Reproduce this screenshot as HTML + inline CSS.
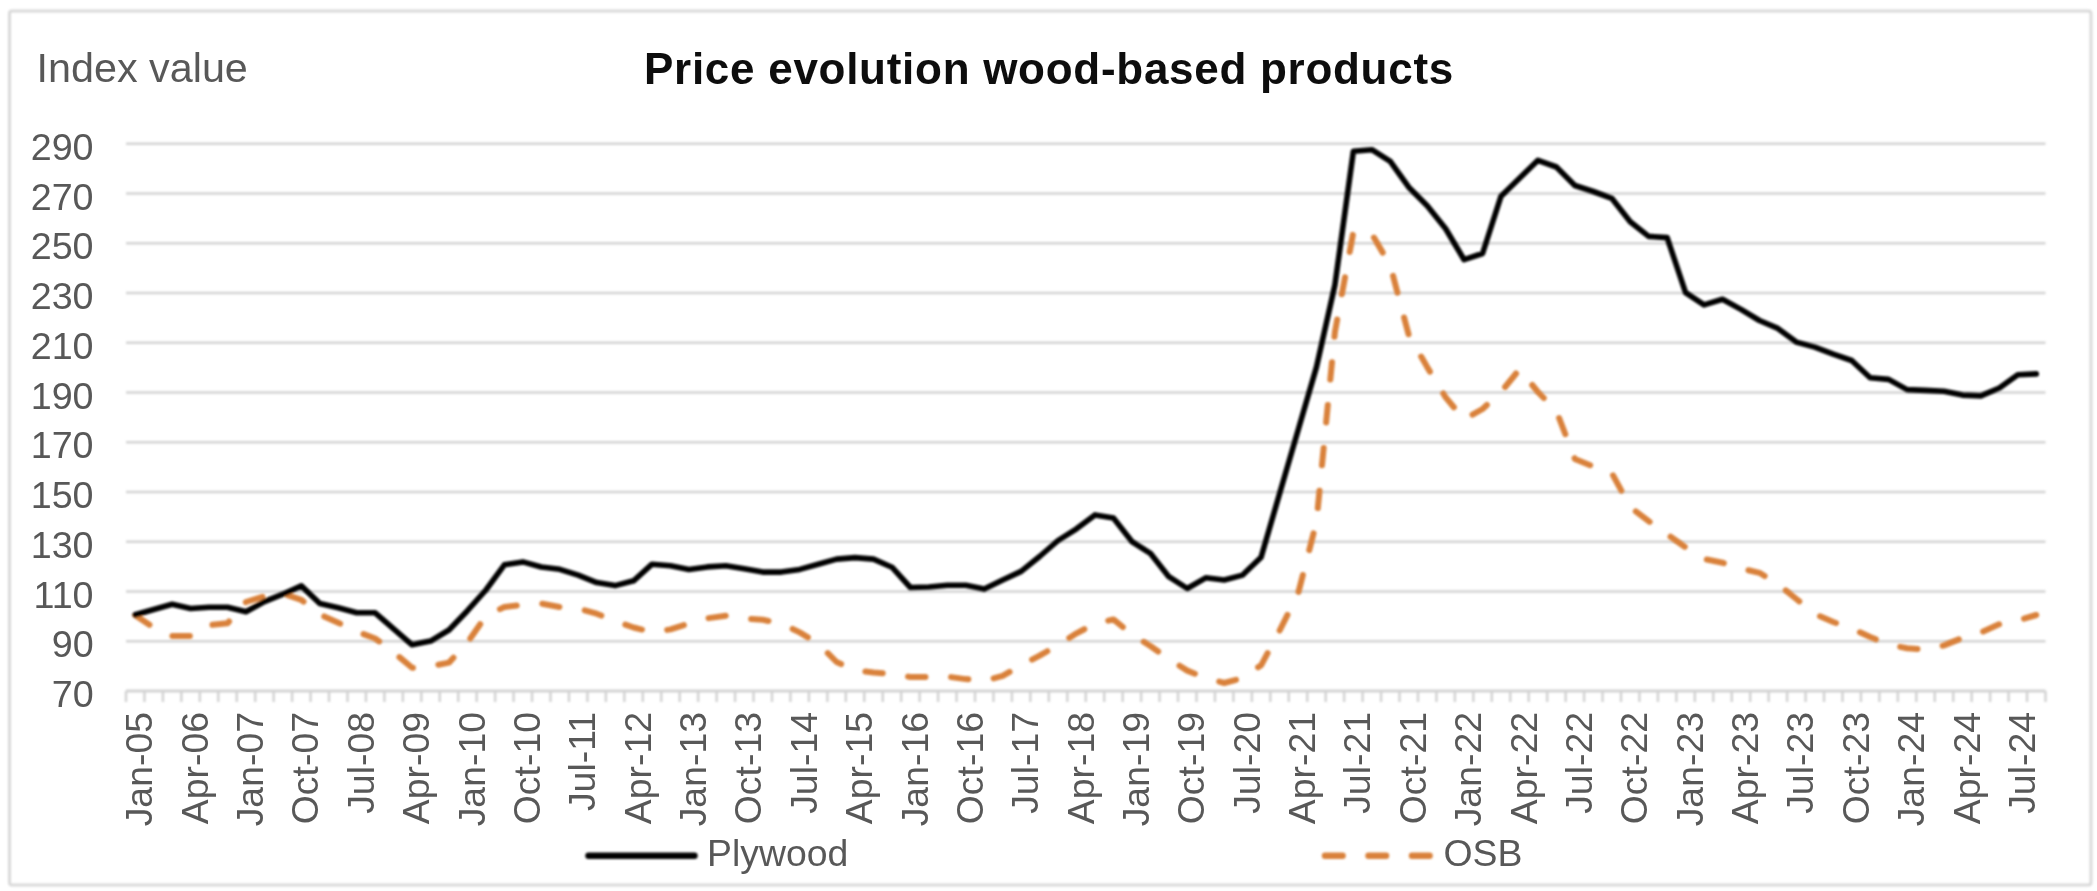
<!DOCTYPE html>
<html><head><meta charset="utf-8"><style>
html,body{margin:0;padding:0;background:#fff;}
body{width:2097px;height:891px;overflow:hidden;font-family:"Liberation Sans",sans-serif;}
svg{display:block;}
</style></head><body>
<svg width="2097" height="891" viewBox="0 0 2097 891">
<defs><filter id="bl" x="0" y="0" width="2097" height="891" filterUnits="userSpaceOnUse"><feGaussianBlur stdDeviation="0.85"/></filter><filter id="bt" x="0" y="0" width="2097" height="891" filterUnits="userSpaceOnUse"><feGaussianBlur stdDeviation="0.45"/></filter></defs>
<rect x="0" y="0" width="2097" height="891" fill="#ffffff"/>
<g filter="url(#bl)">
<rect x="9.5" y="11" width="2081.5" height="874" rx="2.5" fill="none" stroke="#d9d9d9" stroke-width="3"/>
<line x1="126.0" y1="641.25" x2="2045.5" y2="641.25" stroke="#d3d3d3" stroke-width="2.5"/>
<line x1="126.0" y1="591.50" x2="2045.5" y2="591.50" stroke="#d3d3d3" stroke-width="2.5"/>
<line x1="126.0" y1="541.75" x2="2045.5" y2="541.75" stroke="#d3d3d3" stroke-width="2.5"/>
<line x1="126.0" y1="492.00" x2="2045.5" y2="492.00" stroke="#d3d3d3" stroke-width="2.5"/>
<line x1="126.0" y1="442.25" x2="2045.5" y2="442.25" stroke="#d3d3d3" stroke-width="2.5"/>
<line x1="126.0" y1="392.50" x2="2045.5" y2="392.50" stroke="#d3d3d3" stroke-width="2.5"/>
<line x1="126.0" y1="342.75" x2="2045.5" y2="342.75" stroke="#d3d3d3" stroke-width="2.5"/>
<line x1="126.0" y1="293.00" x2="2045.5" y2="293.00" stroke="#d3d3d3" stroke-width="2.5"/>
<line x1="126.0" y1="243.25" x2="2045.5" y2="243.25" stroke="#d3d3d3" stroke-width="2.5"/>
<line x1="126.0" y1="193.50" x2="2045.5" y2="193.50" stroke="#d3d3d3" stroke-width="2.5"/>
<line x1="126.0" y1="143.75" x2="2045.5" y2="143.75" stroke="#d3d3d3" stroke-width="2.5"/>
<line x1="126.0" y1="691" x2="2045.5" y2="691" stroke="#d3d3d3" stroke-width="3"/>
<line x1="126.00" y1="691" x2="126.00" y2="702" stroke="#d3d3d3" stroke-width="2.5"/>
<line x1="144.46" y1="691" x2="144.46" y2="702" stroke="#d3d3d3" stroke-width="2.5"/>
<line x1="162.91" y1="691" x2="162.91" y2="702" stroke="#d3d3d3" stroke-width="2.5"/>
<line x1="181.37" y1="691" x2="181.37" y2="702" stroke="#d3d3d3" stroke-width="2.5"/>
<line x1="199.83" y1="691" x2="199.83" y2="702" stroke="#d3d3d3" stroke-width="2.5"/>
<line x1="218.28" y1="691" x2="218.28" y2="702" stroke="#d3d3d3" stroke-width="2.5"/>
<line x1="236.74" y1="691" x2="236.74" y2="702" stroke="#d3d3d3" stroke-width="2.5"/>
<line x1="255.20" y1="691" x2="255.20" y2="702" stroke="#d3d3d3" stroke-width="2.5"/>
<line x1="273.65" y1="691" x2="273.65" y2="702" stroke="#d3d3d3" stroke-width="2.5"/>
<line x1="292.11" y1="691" x2="292.11" y2="702" stroke="#d3d3d3" stroke-width="2.5"/>
<line x1="310.57" y1="691" x2="310.57" y2="702" stroke="#d3d3d3" stroke-width="2.5"/>
<line x1="329.02" y1="691" x2="329.02" y2="702" stroke="#d3d3d3" stroke-width="2.5"/>
<line x1="347.48" y1="691" x2="347.48" y2="702" stroke="#d3d3d3" stroke-width="2.5"/>
<line x1="365.94" y1="691" x2="365.94" y2="702" stroke="#d3d3d3" stroke-width="2.5"/>
<line x1="384.39" y1="691" x2="384.39" y2="702" stroke="#d3d3d3" stroke-width="2.5"/>
<line x1="402.85" y1="691" x2="402.85" y2="702" stroke="#d3d3d3" stroke-width="2.5"/>
<line x1="421.31" y1="691" x2="421.31" y2="702" stroke="#d3d3d3" stroke-width="2.5"/>
<line x1="439.76" y1="691" x2="439.76" y2="702" stroke="#d3d3d3" stroke-width="2.5"/>
<line x1="458.22" y1="691" x2="458.22" y2="702" stroke="#d3d3d3" stroke-width="2.5"/>
<line x1="476.68" y1="691" x2="476.68" y2="702" stroke="#d3d3d3" stroke-width="2.5"/>
<line x1="495.13" y1="691" x2="495.13" y2="702" stroke="#d3d3d3" stroke-width="2.5"/>
<line x1="513.59" y1="691" x2="513.59" y2="702" stroke="#d3d3d3" stroke-width="2.5"/>
<line x1="532.05" y1="691" x2="532.05" y2="702" stroke="#d3d3d3" stroke-width="2.5"/>
<line x1="550.50" y1="691" x2="550.50" y2="702" stroke="#d3d3d3" stroke-width="2.5"/>
<line x1="568.96" y1="691" x2="568.96" y2="702" stroke="#d3d3d3" stroke-width="2.5"/>
<line x1="587.42" y1="691" x2="587.42" y2="702" stroke="#d3d3d3" stroke-width="2.5"/>
<line x1="605.88" y1="691" x2="605.88" y2="702" stroke="#d3d3d3" stroke-width="2.5"/>
<line x1="624.33" y1="691" x2="624.33" y2="702" stroke="#d3d3d3" stroke-width="2.5"/>
<line x1="642.79" y1="691" x2="642.79" y2="702" stroke="#d3d3d3" stroke-width="2.5"/>
<line x1="661.25" y1="691" x2="661.25" y2="702" stroke="#d3d3d3" stroke-width="2.5"/>
<line x1="679.70" y1="691" x2="679.70" y2="702" stroke="#d3d3d3" stroke-width="2.5"/>
<line x1="698.16" y1="691" x2="698.16" y2="702" stroke="#d3d3d3" stroke-width="2.5"/>
<line x1="716.62" y1="691" x2="716.62" y2="702" stroke="#d3d3d3" stroke-width="2.5"/>
<line x1="735.07" y1="691" x2="735.07" y2="702" stroke="#d3d3d3" stroke-width="2.5"/>
<line x1="753.53" y1="691" x2="753.53" y2="702" stroke="#d3d3d3" stroke-width="2.5"/>
<line x1="771.99" y1="691" x2="771.99" y2="702" stroke="#d3d3d3" stroke-width="2.5"/>
<line x1="790.44" y1="691" x2="790.44" y2="702" stroke="#d3d3d3" stroke-width="2.5"/>
<line x1="808.90" y1="691" x2="808.90" y2="702" stroke="#d3d3d3" stroke-width="2.5"/>
<line x1="827.36" y1="691" x2="827.36" y2="702" stroke="#d3d3d3" stroke-width="2.5"/>
<line x1="845.81" y1="691" x2="845.81" y2="702" stroke="#d3d3d3" stroke-width="2.5"/>
<line x1="864.27" y1="691" x2="864.27" y2="702" stroke="#d3d3d3" stroke-width="2.5"/>
<line x1="882.73" y1="691" x2="882.73" y2="702" stroke="#d3d3d3" stroke-width="2.5"/>
<line x1="901.18" y1="691" x2="901.18" y2="702" stroke="#d3d3d3" stroke-width="2.5"/>
<line x1="919.64" y1="691" x2="919.64" y2="702" stroke="#d3d3d3" stroke-width="2.5"/>
<line x1="938.10" y1="691" x2="938.10" y2="702" stroke="#d3d3d3" stroke-width="2.5"/>
<line x1="956.55" y1="691" x2="956.55" y2="702" stroke="#d3d3d3" stroke-width="2.5"/>
<line x1="975.01" y1="691" x2="975.01" y2="702" stroke="#d3d3d3" stroke-width="2.5"/>
<line x1="993.47" y1="691" x2="993.47" y2="702" stroke="#d3d3d3" stroke-width="2.5"/>
<line x1="1011.92" y1="691" x2="1011.92" y2="702" stroke="#d3d3d3" stroke-width="2.5"/>
<line x1="1030.38" y1="691" x2="1030.38" y2="702" stroke="#d3d3d3" stroke-width="2.5"/>
<line x1="1048.84" y1="691" x2="1048.84" y2="702" stroke="#d3d3d3" stroke-width="2.5"/>
<line x1="1067.29" y1="691" x2="1067.29" y2="702" stroke="#d3d3d3" stroke-width="2.5"/>
<line x1="1085.75" y1="691" x2="1085.75" y2="702" stroke="#d3d3d3" stroke-width="2.5"/>
<line x1="1104.21" y1="691" x2="1104.21" y2="702" stroke="#d3d3d3" stroke-width="2.5"/>
<line x1="1122.66" y1="691" x2="1122.66" y2="702" stroke="#d3d3d3" stroke-width="2.5"/>
<line x1="1141.12" y1="691" x2="1141.12" y2="702" stroke="#d3d3d3" stroke-width="2.5"/>
<line x1="1159.58" y1="691" x2="1159.58" y2="702" stroke="#d3d3d3" stroke-width="2.5"/>
<line x1="1178.03" y1="691" x2="1178.03" y2="702" stroke="#d3d3d3" stroke-width="2.5"/>
<line x1="1196.49" y1="691" x2="1196.49" y2="702" stroke="#d3d3d3" stroke-width="2.5"/>
<line x1="1214.95" y1="691" x2="1214.95" y2="702" stroke="#d3d3d3" stroke-width="2.5"/>
<line x1="1233.40" y1="691" x2="1233.40" y2="702" stroke="#d3d3d3" stroke-width="2.5"/>
<line x1="1251.86" y1="691" x2="1251.86" y2="702" stroke="#d3d3d3" stroke-width="2.5"/>
<line x1="1270.32" y1="691" x2="1270.32" y2="702" stroke="#d3d3d3" stroke-width="2.5"/>
<line x1="1288.77" y1="691" x2="1288.77" y2="702" stroke="#d3d3d3" stroke-width="2.5"/>
<line x1="1307.23" y1="691" x2="1307.23" y2="702" stroke="#d3d3d3" stroke-width="2.5"/>
<line x1="1325.69" y1="691" x2="1325.69" y2="702" stroke="#d3d3d3" stroke-width="2.5"/>
<line x1="1344.14" y1="691" x2="1344.14" y2="702" stroke="#d3d3d3" stroke-width="2.5"/>
<line x1="1362.60" y1="691" x2="1362.60" y2="702" stroke="#d3d3d3" stroke-width="2.5"/>
<line x1="1381.06" y1="691" x2="1381.06" y2="702" stroke="#d3d3d3" stroke-width="2.5"/>
<line x1="1399.51" y1="691" x2="1399.51" y2="702" stroke="#d3d3d3" stroke-width="2.5"/>
<line x1="1417.97" y1="691" x2="1417.97" y2="702" stroke="#d3d3d3" stroke-width="2.5"/>
<line x1="1436.43" y1="691" x2="1436.43" y2="702" stroke="#d3d3d3" stroke-width="2.5"/>
<line x1="1454.88" y1="691" x2="1454.88" y2="702" stroke="#d3d3d3" stroke-width="2.5"/>
<line x1="1473.34" y1="691" x2="1473.34" y2="702" stroke="#d3d3d3" stroke-width="2.5"/>
<line x1="1491.80" y1="691" x2="1491.80" y2="702" stroke="#d3d3d3" stroke-width="2.5"/>
<line x1="1510.25" y1="691" x2="1510.25" y2="702" stroke="#d3d3d3" stroke-width="2.5"/>
<line x1="1528.71" y1="691" x2="1528.71" y2="702" stroke="#d3d3d3" stroke-width="2.5"/>
<line x1="1547.17" y1="691" x2="1547.17" y2="702" stroke="#d3d3d3" stroke-width="2.5"/>
<line x1="1565.62" y1="691" x2="1565.62" y2="702" stroke="#d3d3d3" stroke-width="2.5"/>
<line x1="1584.08" y1="691" x2="1584.08" y2="702" stroke="#d3d3d3" stroke-width="2.5"/>
<line x1="1602.54" y1="691" x2="1602.54" y2="702" stroke="#d3d3d3" stroke-width="2.5"/>
<line x1="1621.00" y1="691" x2="1621.00" y2="702" stroke="#d3d3d3" stroke-width="2.5"/>
<line x1="1639.45" y1="691" x2="1639.45" y2="702" stroke="#d3d3d3" stroke-width="2.5"/>
<line x1="1657.91" y1="691" x2="1657.91" y2="702" stroke="#d3d3d3" stroke-width="2.5"/>
<line x1="1676.37" y1="691" x2="1676.37" y2="702" stroke="#d3d3d3" stroke-width="2.5"/>
<line x1="1694.82" y1="691" x2="1694.82" y2="702" stroke="#d3d3d3" stroke-width="2.5"/>
<line x1="1713.28" y1="691" x2="1713.28" y2="702" stroke="#d3d3d3" stroke-width="2.5"/>
<line x1="1731.74" y1="691" x2="1731.74" y2="702" stroke="#d3d3d3" stroke-width="2.5"/>
<line x1="1750.19" y1="691" x2="1750.19" y2="702" stroke="#d3d3d3" stroke-width="2.5"/>
<line x1="1768.65" y1="691" x2="1768.65" y2="702" stroke="#d3d3d3" stroke-width="2.5"/>
<line x1="1787.11" y1="691" x2="1787.11" y2="702" stroke="#d3d3d3" stroke-width="2.5"/>
<line x1="1805.56" y1="691" x2="1805.56" y2="702" stroke="#d3d3d3" stroke-width="2.5"/>
<line x1="1824.02" y1="691" x2="1824.02" y2="702" stroke="#d3d3d3" stroke-width="2.5"/>
<line x1="1842.48" y1="691" x2="1842.48" y2="702" stroke="#d3d3d3" stroke-width="2.5"/>
<line x1="1860.93" y1="691" x2="1860.93" y2="702" stroke="#d3d3d3" stroke-width="2.5"/>
<line x1="1879.39" y1="691" x2="1879.39" y2="702" stroke="#d3d3d3" stroke-width="2.5"/>
<line x1="1897.85" y1="691" x2="1897.85" y2="702" stroke="#d3d3d3" stroke-width="2.5"/>
<line x1="1916.30" y1="691" x2="1916.30" y2="702" stroke="#d3d3d3" stroke-width="2.5"/>
<line x1="1934.76" y1="691" x2="1934.76" y2="702" stroke="#d3d3d3" stroke-width="2.5"/>
<line x1="1953.22" y1="691" x2="1953.22" y2="702" stroke="#d3d3d3" stroke-width="2.5"/>
<line x1="1971.67" y1="691" x2="1971.67" y2="702" stroke="#d3d3d3" stroke-width="2.5"/>
<line x1="1990.13" y1="691" x2="1990.13" y2="702" stroke="#d3d3d3" stroke-width="2.5"/>
<line x1="2008.59" y1="691" x2="2008.59" y2="702" stroke="#d3d3d3" stroke-width="2.5"/>
<line x1="2027.04" y1="691" x2="2027.04" y2="702" stroke="#d3d3d3" stroke-width="2.5"/>
<line x1="2045.50" y1="691" x2="2045.50" y2="702" stroke="#d3d3d3" stroke-width="2.5"/>
</g><g filter="url(#bt)">
<text x="93.6" y="707.20" text-anchor="end" font-family="Liberation Sans" font-size="37.7" fill="#595959">70</text>
<text x="93.6" y="657.45" text-anchor="end" font-family="Liberation Sans" font-size="37.7" fill="#595959">90</text>
<text x="93.6" y="607.70" text-anchor="end" font-family="Liberation Sans" font-size="37.7" fill="#595959">110</text>
<text x="93.6" y="557.95" text-anchor="end" font-family="Liberation Sans" font-size="37.7" fill="#595959">130</text>
<text x="93.6" y="508.20" text-anchor="end" font-family="Liberation Sans" font-size="37.7" fill="#595959">150</text>
<text x="93.6" y="458.45" text-anchor="end" font-family="Liberation Sans" font-size="37.7" fill="#595959">170</text>
<text x="93.6" y="408.70" text-anchor="end" font-family="Liberation Sans" font-size="37.7" fill="#595959">190</text>
<text x="93.6" y="358.95" text-anchor="end" font-family="Liberation Sans" font-size="37.7" fill="#595959">210</text>
<text x="93.6" y="309.20" text-anchor="end" font-family="Liberation Sans" font-size="37.7" fill="#595959">230</text>
<text x="93.6" y="259.45" text-anchor="end" font-family="Liberation Sans" font-size="37.7" fill="#595959">250</text>
<text x="93.6" y="209.70" text-anchor="end" font-family="Liberation Sans" font-size="37.7" fill="#595959">270</text>
<text x="93.6" y="159.95" text-anchor="end" font-family="Liberation Sans" font-size="37.7" fill="#595959">290</text>
<text transform="translate(152.33,712) rotate(-90)" text-anchor="end" font-family="Liberation Sans" font-size="37.4" fill="#595959">Jan-05</text>
<text transform="translate(207.70,712) rotate(-90)" text-anchor="end" font-family="Liberation Sans" font-size="37.4" fill="#595959">Apr-06</text>
<text transform="translate(263.07,712) rotate(-90)" text-anchor="end" font-family="Liberation Sans" font-size="37.4" fill="#595959">Jan-07</text>
<text transform="translate(318.44,712) rotate(-90)" text-anchor="end" font-family="Liberation Sans" font-size="37.4" fill="#595959">Oct-07</text>
<text transform="translate(373.81,712) rotate(-90)" text-anchor="end" font-family="Liberation Sans" font-size="37.4" fill="#595959">Jul-08</text>
<text transform="translate(429.18,712) rotate(-90)" text-anchor="end" font-family="Liberation Sans" font-size="37.4" fill="#595959">Apr-09</text>
<text transform="translate(484.55,712) rotate(-90)" text-anchor="end" font-family="Liberation Sans" font-size="37.4" fill="#595959">Jan-10</text>
<text transform="translate(539.92,712) rotate(-90)" text-anchor="end" font-family="Liberation Sans" font-size="37.4" fill="#595959">Oct-10</text>
<text transform="translate(595.29,712) rotate(-90)" text-anchor="end" font-family="Liberation Sans" font-size="37.4" fill="#595959">Jul-11</text>
<text transform="translate(650.66,712) rotate(-90)" text-anchor="end" font-family="Liberation Sans" font-size="37.4" fill="#595959">Apr-12</text>
<text transform="translate(706.03,712) rotate(-90)" text-anchor="end" font-family="Liberation Sans" font-size="37.4" fill="#595959">Jan-13</text>
<text transform="translate(761.40,712) rotate(-90)" text-anchor="end" font-family="Liberation Sans" font-size="37.4" fill="#595959">Oct-13</text>
<text transform="translate(816.77,712) rotate(-90)" text-anchor="end" font-family="Liberation Sans" font-size="37.4" fill="#595959">Jul-14</text>
<text transform="translate(872.14,712) rotate(-90)" text-anchor="end" font-family="Liberation Sans" font-size="37.4" fill="#595959">Apr-15</text>
<text transform="translate(927.51,712) rotate(-90)" text-anchor="end" font-family="Liberation Sans" font-size="37.4" fill="#595959">Jan-16</text>
<text transform="translate(982.88,712) rotate(-90)" text-anchor="end" font-family="Liberation Sans" font-size="37.4" fill="#595959">Oct-16</text>
<text transform="translate(1038.25,712) rotate(-90)" text-anchor="end" font-family="Liberation Sans" font-size="37.4" fill="#595959">Jul-17</text>
<text transform="translate(1093.62,712) rotate(-90)" text-anchor="end" font-family="Liberation Sans" font-size="37.4" fill="#595959">Apr-18</text>
<text transform="translate(1148.99,712) rotate(-90)" text-anchor="end" font-family="Liberation Sans" font-size="37.4" fill="#595959">Jan-19</text>
<text transform="translate(1204.36,712) rotate(-90)" text-anchor="end" font-family="Liberation Sans" font-size="37.4" fill="#595959">Oct-19</text>
<text transform="translate(1259.73,712) rotate(-90)" text-anchor="end" font-family="Liberation Sans" font-size="37.4" fill="#595959">Jul-20</text>
<text transform="translate(1315.10,712) rotate(-90)" text-anchor="end" font-family="Liberation Sans" font-size="37.4" fill="#595959">Apr-21</text>
<text transform="translate(1370.47,712) rotate(-90)" text-anchor="end" font-family="Liberation Sans" font-size="37.4" fill="#595959">Jul-21</text>
<text transform="translate(1425.84,712) rotate(-90)" text-anchor="end" font-family="Liberation Sans" font-size="37.4" fill="#595959">Oct-21</text>
<text transform="translate(1481.21,712) rotate(-90)" text-anchor="end" font-family="Liberation Sans" font-size="37.4" fill="#595959">Jan-22</text>
<text transform="translate(1536.58,712) rotate(-90)" text-anchor="end" font-family="Liberation Sans" font-size="37.4" fill="#595959">Apr-22</text>
<text transform="translate(1591.95,712) rotate(-90)" text-anchor="end" font-family="Liberation Sans" font-size="37.4" fill="#595959">Jul-22</text>
<text transform="translate(1647.32,712) rotate(-90)" text-anchor="end" font-family="Liberation Sans" font-size="37.4" fill="#595959">Oct-22</text>
<text transform="translate(1702.69,712) rotate(-90)" text-anchor="end" font-family="Liberation Sans" font-size="37.4" fill="#595959">Jan-23</text>
<text transform="translate(1758.06,712) rotate(-90)" text-anchor="end" font-family="Liberation Sans" font-size="37.4" fill="#595959">Apr-23</text>
<text transform="translate(1813.43,712) rotate(-90)" text-anchor="end" font-family="Liberation Sans" font-size="37.4" fill="#595959">Jul-23</text>
<text transform="translate(1868.80,712) rotate(-90)" text-anchor="end" font-family="Liberation Sans" font-size="37.4" fill="#595959">Oct-23</text>
<text transform="translate(1924.17,712) rotate(-90)" text-anchor="end" font-family="Liberation Sans" font-size="37.4" fill="#595959">Jan-24</text>
<text transform="translate(1979.54,712) rotate(-90)" text-anchor="end" font-family="Liberation Sans" font-size="37.4" fill="#595959">Apr-24</text>
<text transform="translate(2034.91,712) rotate(-90)" text-anchor="end" font-family="Liberation Sans" font-size="37.4" fill="#595959">Jul-24</text>
</g><g filter="url(#bl)">
<polyline points="135.23,615.30 153.69,627.70 172.14,636.00 190.60,636.00 209.06,625.20 227.51,623.30 245.97,602.00 264.43,596.30 282.88,593.60 301.34,599.80 319.80,614.50 338.25,622.70 356.71,631.50 375.17,638.50 393.62,652.20 412.08,667.80 430.54,666.30 448.99,662.60 467.45,642.60 485.91,615.90 504.36,607.00 522.82,604.80 541.28,603.60 559.73,607.00 578.19,608.50 596.65,613.70 615.10,621.10 633.56,627.50 652.02,632.00 670.47,629.40 688.93,623.50 707.39,618.30 725.84,615.80 744.30,618.60 762.76,619.80 781.21,623.50 799.67,632.40 818.13,643.50 836.58,662.00 855.04,670.20 873.50,672.40 891.95,673.90 910.41,677.00 928.87,677.00 947.32,676.60 965.78,679.10 984.24,680.80 1002.69,675.90 1021.15,665.30 1039.61,655.70 1058.06,645.00 1076.52,633.30 1094.98,623.70 1113.44,619.40 1131.89,634.40 1150.35,646.00 1168.81,658.90 1187.26,670.60 1205.72,678.00 1224.18,683.00 1242.63,678.00 1261.09,665.30 1279.55,630.70 1298.00,594.00 1316.46,522.00 1334.92,332.00 1353.37,232.00 1371.83,234.00 1390.29,265.50 1408.74,335.00 1427.20,367.10 1445.66,397.40 1464.11,419.50 1482.57,409.00 1501.03,392.00 1519.48,369.30 1537.94,392.00 1556.40,411.00 1574.85,459.00 1593.31,466.50 1611.77,473.00 1630.22,507.00 1648.68,521.20 1667.14,534.30 1685.59,547.40 1704.05,559.00 1722.51,562.70 1740.96,568.50 1759.42,572.80 1777.88,584.00 1796.33,599.00 1814.79,614.00 1833.25,622.00 1851.70,628.50 1870.16,637.00 1888.62,644.50 1907.07,648.30 1925.53,649.70 1943.99,645.40 1962.44,637.90 1980.90,632.50 1999.36,624.20 2017.81,620.50 2036.27,615.00" fill="none" stroke="#d9813a" stroke-width="6" stroke-linejoin="round" stroke-linecap="round" stroke-dasharray="17.4 25.65" stroke-dashoffset="0.3"/>
<polyline points="135.23,614.80 153.69,609.50 172.14,604.30 190.60,608.50 209.06,607.20 227.51,607.20 245.97,611.70 264.43,601.60 282.88,594.20 301.34,585.90 319.80,603.50 338.25,607.80 356.71,612.70 375.17,612.80 393.62,628.80 412.08,644.80 430.54,641.10 448.99,630.00 467.45,610.70 485.91,590.00 504.36,564.80 522.82,561.90 541.28,567.00 559.73,569.30 578.19,575.20 596.65,582.60 615.10,585.60 633.56,580.80 652.02,564.20 670.47,565.70 688.93,569.40 707.39,566.90 725.84,565.70 744.30,568.70 762.76,572.10 781.21,572.10 799.67,569.40 818.13,564.30 836.58,559.10 855.04,557.60 873.50,559.10 891.95,567.20 910.41,587.50 928.87,587.00 947.32,585.30 965.78,585.30 984.24,589.10 1002.69,580.00 1021.15,571.40 1039.61,556.50 1058.06,540.50 1076.52,528.80 1094.98,514.90 1113.44,518.10 1131.89,541.60 1150.35,553.30 1168.81,576.70 1187.26,588.50 1205.72,577.80 1224.18,580.00 1242.63,575.10 1261.09,557.20 1279.55,493.80 1298.00,430.50 1316.46,367.10 1334.92,284.80 1353.37,151.30 1371.83,149.70 1390.29,161.40 1408.74,187.20 1427.20,205.70 1445.66,228.70 1464.11,259.70 1482.57,253.50 1501.03,196.20 1519.48,178.30 1537.94,160.30 1556.40,167.00 1574.85,185.50 1593.31,191.50 1611.77,198.30 1630.22,221.80 1648.68,236.40 1667.14,237.60 1685.59,292.60 1704.05,304.90 1722.51,299.30 1740.96,309.40 1759.42,320.50 1777.88,328.40 1796.33,342.10 1814.79,347.10 1833.25,354.20 1851.70,360.50 1870.16,377.80 1888.62,379.40 1907.07,389.60 1925.53,390.40 1943.99,391.20 1962.44,395.10 1980.90,395.90 1999.36,388.00 2017.81,374.70 2036.27,373.90" fill="none" stroke="#000000" stroke-width="5.6" stroke-linejoin="round" stroke-linecap="round"/>
</g><g filter="url(#bt)">
<text x="1049" y="83.5" text-anchor="middle" font-family="Liberation Sans" font-weight="bold" font-size="44" letter-spacing="0.72" fill="#111111">Price evolution wood-based products</text>
<text x="36.6" y="81.5" font-family="Liberation Sans" font-size="41.3" fill="#595959">Index value</text>
</g><g filter="url(#bl)">
<line x1="588.5" y1="855.8" x2="694.5" y2="855.8" stroke="#000" stroke-width="6.4" stroke-linecap="round"/>
</g><g filter="url(#bt)">
<text x="707" y="866" font-family="Liberation Sans" font-size="37.4" fill="#595959">Plywood</text>
</g><g filter="url(#bl)">
<line x1="1325" y1="855.8" x2="1431" y2="855.8" stroke="#d9813a" stroke-width="6.4" stroke-linecap="round" stroke-dasharray="17.6 25.9"/>
</g><g filter="url(#bt)">
<text x="1443.5" y="866" font-family="Liberation Sans" font-size="37.4" fill="#595959">OSB</text>
</g>
</svg>
</body></html>
